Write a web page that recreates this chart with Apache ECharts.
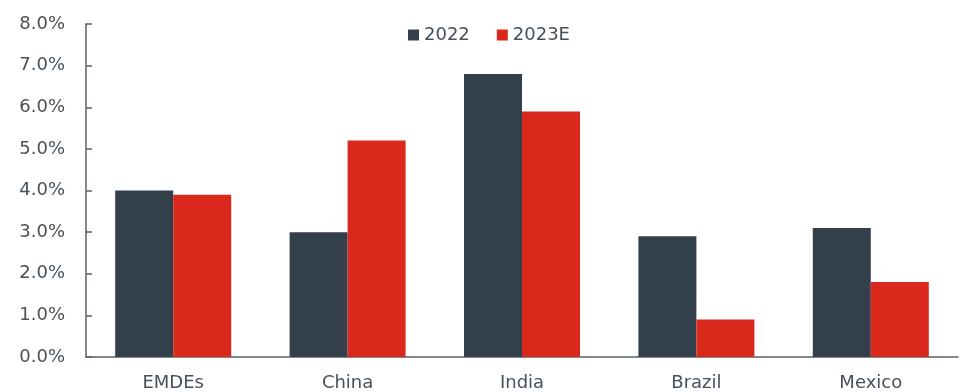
<!DOCTYPE html>
<html><head><meta charset="utf-8">
<script src="https://cdn.jsdelivr.net/npm/echarts@6/dist/echarts.min.js"></script>
<style>html,body{margin:0;padding:0;background:#fff}#c{width:969px;height:392px}</style>
</head><body><div id="c"></div>
<script>
const categories = ["EMDEs", "China", "India", "Brazil", "Mexico"];
const series2022 = [4.0, 3.0, 6.8, 2.9, 3.1];
const series2023E = [3.9, 5.2, 5.9, 0.9, 1.8];
const seriesNames = ["2022", "2023E"];
const yMin = 0, yMax = 8, yInterval = 1;

const axisColor = "#59626b";
const textColor = "#48515a";
const font = "DejaVu Sans";
const chart = echarts.init(document.getElementById('c'), null, {renderer: 'canvas'});
chart.setOption({
  animation: false,
  textStyle: {fontFamily: font},
  legend: {
    top: 21, left: 403, itemWidth: 11, itemHeight: 11, itemGap: 27,
    icon: 'rect',
    textStyle: {fontSize: 18, color: textColor, fontFamily: font},
    data: seriesNames
  },
  grid: {left: 86, right: 11, top: 24, bottom: 35, containLabel: false, outerBoundsMode: 'none'},
  xAxis: {
    type: 'category', data: categories,
    axisLine: {lineStyle: {color: axisColor, width: 1.5}},
    axisTick: {inside: true, length: 6, lineStyle: {color: axisColor, width: 1.5}},
    axisLabel: {fontSize: 18, color: textColor, margin: 17, fontFamily: font}
  },
  yAxis: {
    type: 'value', min: yMin, max: yMax, interval: yInterval,
    splitLine: {show: false},
    axisLine: {show: true, lineStyle: {color: axisColor, width: 1.5}},
    axisTick: {show: true, inside: true, length: 6, lineStyle: {color: axisColor, width: 1.5}},
    axisLabel: {fontSize: 18, color: textColor, margin: 21, fontFamily: font,
      formatter: v => v.toFixed(1) + '%'}
  },
  series: [
    {name: seriesNames[0], type: 'bar', data: series2022, barWidth: 58, barGap: '0%',
     itemStyle: {color: '#333f4a'}},
    {name: seriesNames[1], type: 'bar', data: series2023E, barWidth: 58,
     itemStyle: {color: '#da291c'}}
  ]
});
</script></body></html>
